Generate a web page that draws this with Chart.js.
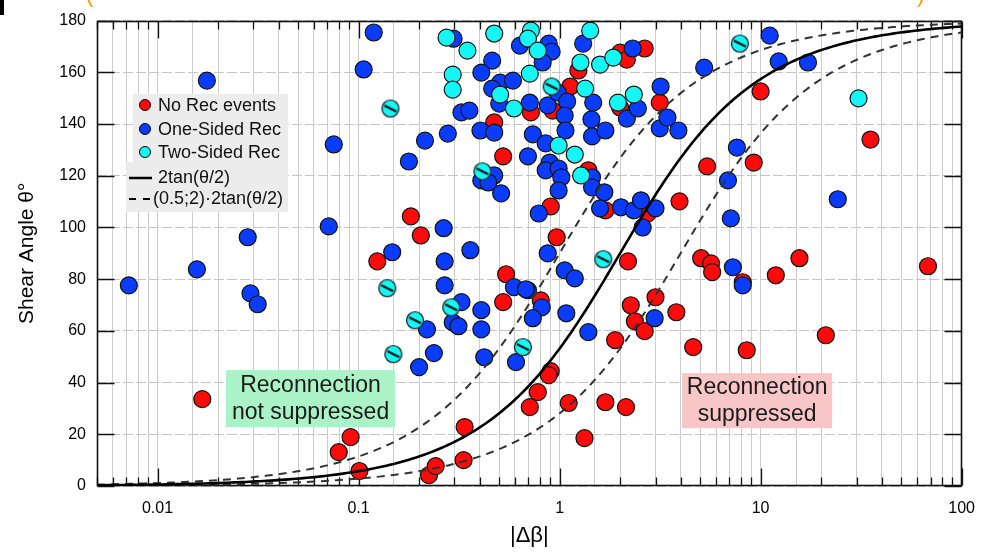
<!DOCTYPE html>
<html>
<head>
<meta charset="utf-8">
<script src="https://cdn.jsdelivr.net/npm/chart.js@4.4.1/dist/chart.umd.min.js"></script>
<style>
  html, body { margin: 0; padding: 0; background: #fff; }
  #wrap { width: 988px; height: 556px; }
</style>
</head>
<body>
<div id="wrap"><canvas id="c" width="988" height="556"></canvas></div>
<script>
// No Rec events  (|dBeta|, shear angle)
var noRecX = [0.0167,0.0797,0.0913,0.101,0.124,0.182,0.204,0.224,0.242,0.333,0.337,0.524,0.542,0.524,0.473,0.720,0.924,1.13,1.24,2.00,2.16,2.65,3.15,2.00,1.39,0.903,0.967,0.806,2.19,0.903,0.883,0.779,0.711,1.11,1.69,2.14,1.33,1.89,2.26,2.37,2.65,3.00,3.81,10.0,35.2,5.42,9.24,3.95,2.74,5.06,5.67,5.74,8.15,11.9,15.6,68.0,4.62,8.53,21.1,1.69];
var noRecY = [33.6,13.1,18.9,5.8,86.9,104.3,96.9,4.2,7.7,10.0,22.8,71.1,81.9,127.5,140.6,144.5,145.2,154.5,160.7,167.6,164.9,169.2,148.3,146.4,122.1,108.1,96.2,71.8,86.9,44.4,42.9,36.3,30.5,32.1,32.4,30.5,18.5,56.4,69.9,63.7,59.9,73.0,67.2,152.6,134.0,123.6,125.1,110.1,105.4,88.1,86.1,82.7,78.8,81.5,88.1,85.0,53.7,52.5,58.3,106.6];

// One-Sided Rec
var oneSidedX = [0.0176,0.119,0.106,0.0753,0.00720,0.0157,0.0281,0.0290,0.0315,0.0711,
  0.297,0.462,0.408,0.506,0.586,0.462,0.635,0.325,0.356,0.501,
  0.711,0.404,0.473,0.278,0.214,0.178,0.696,0.736,0.473,0.408,
  0.442,0.883,0.913,0.824,1.31,2.31,3.18,0.873,0.978,1.09,
  1.06,1.07,1.47,1.44,1.45,1.69,2.16,2.45,3.15,3.44,
  3.90,0.853,0.893,0.853,0.989,1.02,1.45,0.989,0.788,1.45,
  1.67,1.59,2.02,2.34,2.54,3.00,2.59,0.873,1.06,1.19,
  0.696,0.815,0.736,1.08,1.39,2.97,0.512,0.265,0.147,0.360,
  0.268,0.268,0.593,0.680,0.325,0.294,0.314,0.408,0.219,0.408,
  0.237,0.200,0.422,0.607,11.1,5.24,12.3,17.2,7.62,6.88,
  7.11,24.2,7.28,8.15];
var oneSidedY = [156.8,175.4,161.1,132.1,77.6,83.8,96.2,74.5,70.3,100.4,
  173.0,164.5,159.9,156.0,156.8,153.7,170.3,144.5,145.2,147.9,
  148.3,137.5,136.7,136.3,133.6,125.5,127.5,136.0,120.1,118.2,
  117.4,171.1,168.0,163.8,171.1,169.2,154.5,147.2,152.2,148.7,
  143.3,137.5,148.3,141.8,135.2,137.5,142.1,146.0,138.3,142.5,
  137.5,132.5,125.1,122.1,122.8,119.4,119.4,114.3,105.4,115.5,
  113.6,107.4,107.8,106.6,110.5,107.4,100.0,90.0,83.4,80.3,
  75.7,69.1,64.9,66.8,59.5,64.9,113.2,99.7,90.4,91.2,
  86.9,77.6,76.9,76.1,71.1,63.3,61.8,68.0,60.6,60.6,
  51.4,46.0,49.8,47.9,174.2,161.8,164.2,163.8,130.9,118.2,
  103.5,110.9,84.6,77.6];

// Two-Sided Rec
var twoSidedX = [0.274,0.348,0.473,0.720,0.696,0.294,0.294,0.711,0.506,0.593,0.779,1.42,1.27,1.59,1.85,1.34,1.95,2.34,0.989,1.19,1.28,30.7];
var twoSidedY = [173.4,168.4,175.0,176.1,173.0,159.1,153.3,159.5,151.4,146.0,168.4,176.1,163.8,163.0,165.7,153.7,148.3,151.4,131.7,128.2,120.1,149.9];
// Two-Sided Rec, marked with a slash
var twoSidedMarkX = [0.413,0.913,1.65,0.139,0.289,0.191,0.149,0.657,7.88,0.144];
var twoSidedMarkY = [121.7,154.5,87.7,76.5,69.1,64.1,51.0,53.7,171.1,146.0];

// model curves: |dBeta| = k * 2tan(theta/2)
var curveFactors = [1, 0.5, 2];

var xTickValues = [0.01, 0.1, 1, 10, 100];
var xTickLabels = ['0.01', '0.1', '1', '10', '100'];
// minor tick positions inside each decade
var xMinor = [1, 2, 3, 4, 5, 6, 7, 8, 9];

var FONT = "'Liberation Sans', Arial, Helvetica, sans-serif";
Chart.defaults.font.family = FONT;
Chart.defaults.color = '#000';

function pts(xs, ys) {
  var out = [];
  for (var i = 0; i < Math.min(xs.length, ys.length); i++) out.push({x: xs[i], y: ys[i]});
  return out;
}

function curve(k) {
  var out = [];
  var n = 240;
  for (var i = 0; i < n; i++) {
    var x = 0.005 * Math.pow(100 / 0.005, i / (n - 1));
    out.push({x: x, y: 2 * Math.atan(x / (2 * k)) * 180 / Math.PI});
  }
  return out;
}

var R = 8.5;
var RED = '#ff0a0a', BLUE = '#0a3cff', CYAN = '#14f7f4';

// cyan marker with a slash through it
var slashDot = document.createElement('canvas');
slashDot.width = 20; slashDot.height = 20;
(function () {
  var g = slashDot.getContext('2d');
  g.beginPath(); g.arc(10, 10, R, 0, Math.PI * 2);
  g.fillStyle = CYAN; g.fill();
  g.lineWidth = 1.2; g.strokeStyle = '#111'; g.stroke();
  g.beginPath(); g.moveTo(4, 7); g.lineTo(16, 13);
  g.lineWidth = 2.2; g.stroke();
})();

// text boxes anchored in data space
var notes = [
  {x: 0.0577, y: 33.8, w: 169, h: 57, fill: '#abf3c6', lines: ['Reconnection', 'not suppressed']},
  {x: 9.61, y: 33.0, w: 150, h: 55, fill: '#f8c6c6', lines: ['Reconnection', 'suppressed']}
];

function drawFrame(chart) {
  var ctx = chart.ctx, a = chart.chartArea, x = chart.scales.x, y = chart.scales.y;
  var L = Math.round(a.left) + 0.5, T = Math.round(a.top) + 0.5;
  var Rt = Math.round(a.right) - 0.5, B = Math.round(a.bottom) - 0.5;
  ctx.save();
  ctx.setLineDash([]);
  ctx.strokeStyle = '#111';
  ctx.lineWidth = 1.6;
  ctx.strokeRect(L, T, Rt - L, B - T);
  ctx.lineWidth = 1.3;
  ctx.beginPath();
  for (var d = 0.001; d <= 100; d *= 10) {
    for (var m = 0; m < xMinor.length; m++) {
      var v = d * xMinor[m];
      if (v < 0.005 * 0.999 || v > 100 * 1.001) continue;
      var px = Math.round(x.getPixelForValue(v)) + 0.5;
      var len = m === 0 ? 17 : 8;
      ctx.moveTo(px, B); ctx.lineTo(px, B - len);
      ctx.moveTo(px, T); ctx.lineTo(px, T + len);
    }
  }
  for (var t = 0; t <= 180; t += 20) {
    var py = Math.round(y.getPixelForValue(t)) + 0.5;
    ctx.moveTo(L, py); ctx.lineTo(L + 17, py);
    ctx.moveTo(Rt, py); ctx.lineTo(Rt - 17, py);
  }
  ctx.stroke();
  ctx.restore();
}

function drawNotes(chart) {
  var ctx = chart.ctx, xs = chart.scales.x, ys = chart.scales.y;
  ctx.save();
  notes.forEach(function (n) {
    var cx = xs.getPixelForValue(n.x), cy = ys.getPixelForValue(n.y);
    ctx.fillStyle = n.fill;
    ctx.fillRect(cx - n.w / 2, cy - n.h / 2, n.w, n.h);
    ctx.fillStyle = '#1a1a1a';
    ctx.font = '23px ' + FONT;
    ctx.textAlign = 'center';
    ctx.textBaseline = 'middle';
    ctx.fillText(n.lines[0], cx, cy - 13);
    ctx.fillText(n.lines[1], cx, cy + 14);
  });
  ctx.restore();
}

function drawLegend(chart) {
  var ctx = chart.ctx;
  ctx.save();
  ctx.fillStyle = '#ececec';
  ctx.fillRect(133, 94, 155, 68);
  ctx.fillRect(126, 162, 162, 50);
  ctx.font = '18px ' + FONT;
  ctx.textBaseline = 'middle';
  ctx.textAlign = 'left';
  var items = [[RED, 'No Rec events', 105], [BLUE, 'One-Sided Rec', 129], [CYAN, 'Two-Sided Rec', 152]];
  items.forEach(function (it) {
    ctx.beginPath(); ctx.arc(145, it[2], 5.5, 0, Math.PI * 2);
    ctx.fillStyle = it[0]; ctx.fill();
    ctx.lineWidth = 1; ctx.strokeStyle = '#000'; ctx.stroke();
    ctx.fillStyle = '#111';
    ctx.fillText(it[1], 158, it[2] + 1);
  });
  ctx.strokeStyle = '#000';
  ctx.lineWidth = 2.5;
  ctx.beginPath(); ctx.moveTo(129, 178); ctx.lineTo(152, 178); ctx.stroke();
  ctx.lineWidth = 1.8;
  ctx.beginPath(); ctx.moveTo(129, 199); ctx.lineTo(136, 199); ctx.moveTo(143, 199); ctx.lineTo(150, 199); ctx.stroke();
  ctx.fillStyle = '#111';
  ctx.fillText('2tan(\u03b8/2)', 158, 178);
  ctx.fillText('(0.5;2)\u00b72tan(\u03b8/2)', 153, 199);
  // cropped title remnants at the very top
  ctx.fillStyle = '#000';
  ctx.fillRect(0, 0, 4, 15);
  ctx.fillStyle = '#f5a01a';
  ctx.font = '22px ' + FONT;
  ctx.textBaseline = 'alphabetic';
  ctx.fillText('(', 86, 2);
  ctx.fillText(')', 917, 2);
  ctx.restore();
}

var decor = {
  id: 'decor',
  beforeDatasetsDraw: function (chart) {
    drawNotes(chart);
    drawFrame(chart);
  },
  afterDraw: function (chart) {
    drawLegend(chart);
  }
};

var pointDefaults = {pointRadius: R, pointHoverRadius: R, borderColor: '#111', borderWidth: 1.2, showLine: false};

new Chart(document.getElementById('c'), {
  type: 'scatter',
  data: {
    datasets: [
      {label: '2tan', data: curve(curveFactors[0]), showLine: true, pointRadius: 0, borderColor: '#000', borderWidth: 2.6, order: 0},
      {label: '0.5', data: curve(curveFactors[1]), showLine: true, pointRadius: 0, borderColor: '#333', borderWidth: 2, borderDash: [8, 6], order: 0},
      {label: '2', data: curve(curveFactors[2]), showLine: true, pointRadius: 0, borderColor: '#333', borderWidth: 2, borderDash: [8, 6], order: 0},
      Object.assign({label: 'Two-Sided Rec mark', data: pts(twoSidedMarkX, twoSidedMarkY), pointStyle: slashDot, order: 1}, pointDefaults),
      Object.assign({label: 'Two-Sided Rec', data: pts(twoSidedX, twoSidedY), backgroundColor: CYAN, order: 1}, pointDefaults),
      Object.assign({label: 'One-Sided Rec', data: pts(oneSidedX, oneSidedY), backgroundColor: BLUE, order: 2}, pointDefaults),
      Object.assign({label: 'No Rec events', data: pts(noRecX, noRecY), backgroundColor: RED, order: 3}, pointDefaults)
    ]
  },
  options: {
    responsive: false,
    animation: false,
    devicePixelRatio: 1,
    events: [],
    layout: {padding: {left: 0, right: 18, top: 20, bottom: 0}},
    scales: {
      x: {
        type: 'logarithmic',
        min: 0.005,
        max: 100,
        afterFit: function (s) { s.height = 70; },
        border: {display: false},
        grid: {color: '#cdcdcd', lineWidth: 1, drawTicks: false},
        ticks: {
          autoSkip: false, maxRotation: 0, padding: 13,
          font: {size: 16}, color: '#000',
          callback: function (v) {
            for (var i = 0; i < xTickValues.length; i++) {
              if (Math.abs(v / xTickValues[i] - 1) < 1e-6) return xTickLabels[i];
            }
            return '';
          }
        },
        title: {display: true, text: '|\u0394\u03b2|', font: {size: 22}, color: '#000', padding: {top: 0, bottom: 7}}
      },
      y: {
        min: 0,
        max: 180,
        afterFit: function (s) { s.width = 97; },
        border: {display: false, dash: [10, 3]},
        grid: {color: '#c6c6c6', lineWidth: 1, drawTicks: false},
        ticks: {stepSize: 20, padding: 11, font: {size: 16}, color: '#000'},
        title: {display: true, text: 'Shear Angle \u03b8\u00b0', font: {size: 21}, color: '#000', padding: {top: 15, bottom: 0}}
      }
    },
    plugins: {legend: {display: false}, tooltip: {enabled: false}}
  },
  plugins: [decor]
});
</script>
</body>
</html>
